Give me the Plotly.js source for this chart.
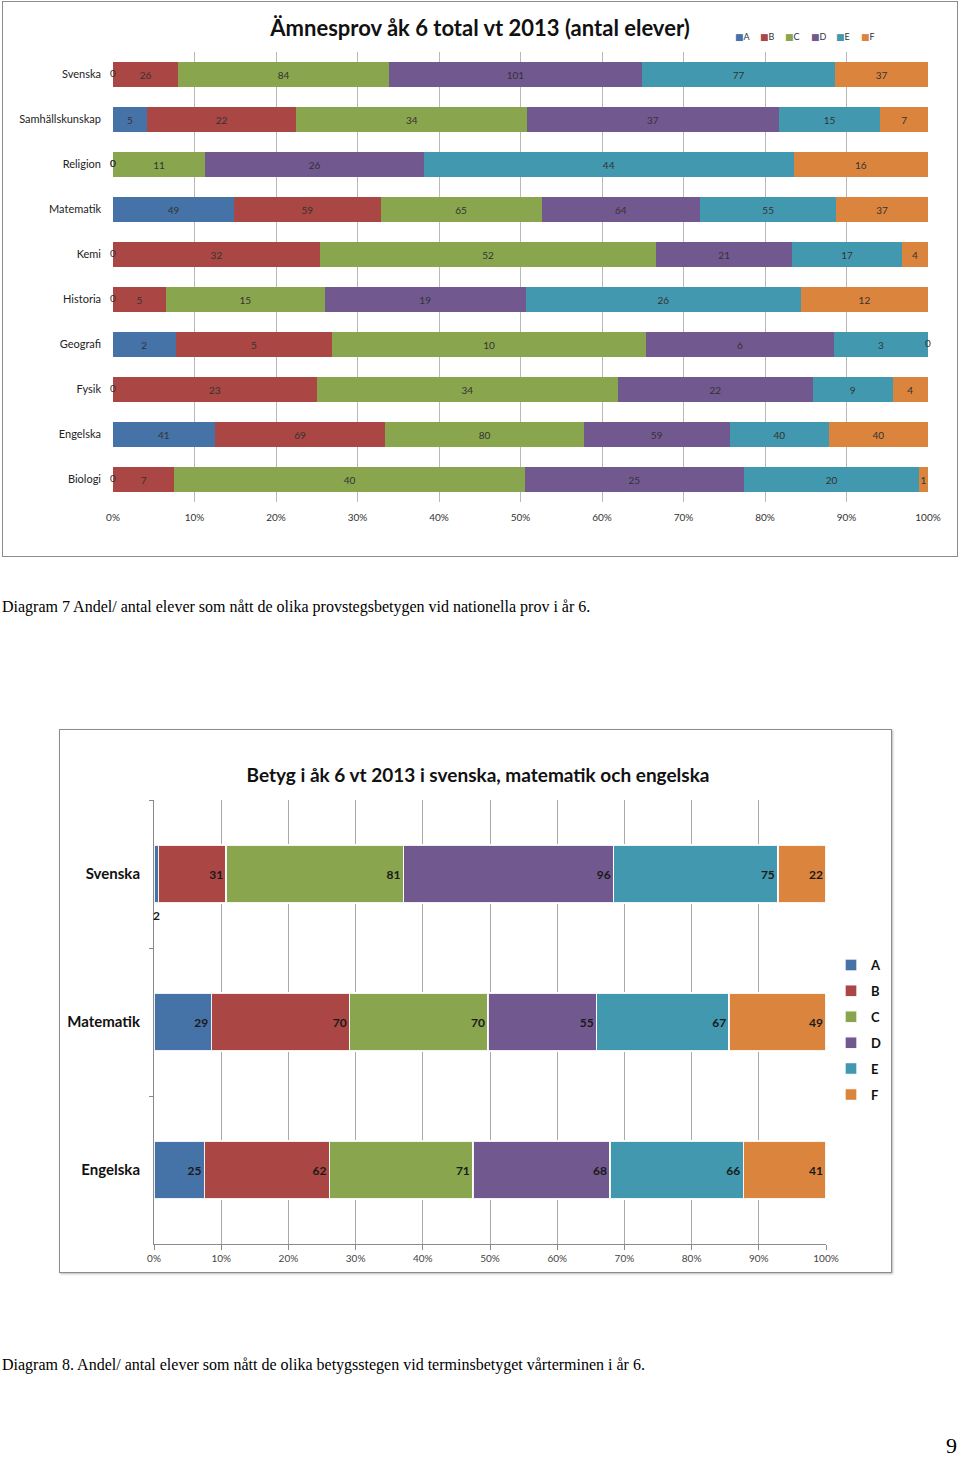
<!DOCTYPE html>
<html>
<head>
<meta charset="utf-8">
<script src="https://cdn.plot.ly/plotly-3.0.1.min.js"></script>
<style>
  html, body { margin: 0; padding: 0; background: #fff; }
  body { width: 960px; height: 1459px; position: relative; overflow: hidden; }
  #c1 { position: absolute; left: 2px; top: 1px; width: 954px; height: 554px; border: 1px solid #8c8c8c; }
  #c2 { position: absolute; left: 59px; top: 729px; width: 831px; height: 542px; border: 1px solid #8c8c8c; box-shadow: 1px 1px 2px #bbb; }
  .cap { position: absolute; left: 2px; font-family: "Liberation Serif", "Times New Roman", serif; font-size: 16px; color: #000; white-space: nowrap; line-height: 18px; }
  #pg { position: absolute; left: 946px; top: 1433px; font-family: "Liberation Serif", serif; font-size: 22px; color: #000; line-height: 26px; }
</style>
</head>
<body>
<div id="c1"></div>
<div class="cap" style="top:598px;">Diagram 7 Andel/ antal elever som nått de olika provstegsbetygen vid nationella prov i år 6.</div>
<div id="c2"></div>
<div class="cap" style="top:1356px;">Diagram 8. Andel/ antal elever som nått de olika betygsstegen vid terminsbetyget vårterminen i år 6.</div>
<div id="pg">9</div>
<script>
// ---------- DATA ----------
var grades = ['A', 'B', 'C', 'D', 'E', 'F'];
var gradeColors = ['#4572A7', '#AA4643', '#89A54E', '#71588F', '#4198AF', '#DB843D'];

// Chart 1: Ämnesprov åk 6 total vt 2013 (antal elever)
var subjects1 = ['Svenska', 'Samhällskunskap', 'Religion', 'Matematik', 'Kemi', 'Historia', 'Geografi', 'Fysik', 'Engelska', 'Biologi'];
var A1 = [0, 5, 0, 49, 0, 0, 2, 0, 41, 0];
var B1 = [26, 22, 0, 59, 32, 5, 5, 23, 69, 7];
var C1 = [84, 34, 11, 65, 52, 15, 10, 34, 80, 40];
var D1 = [101, 37, 26, 64, 21, 19, 6, 22, 59, 25];
var E1 = [77, 15, 44, 55, 17, 26, 3, 9, 40, 20];
var F1 = [37, 7, 16, 37, 4, 12, 0, 4, 40, 1];

// Chart 2: Betyg i åk 6 vt 2013 i svenska, matematik och engelska
var subjects2 = ['Svenska', 'Matematik', 'Engelska'];
var A2 = [2, 29, 25];
var B2 = [31, 70, 62];
var C2 = [81, 70, 71];
var D2 = [96, 55, 68];
var E2 = [75, 67, 66];
var F2 = [22, 49, 41];

var pctTicks = [0, 10, 20, 30, 40, 50, 60, 70, 80, 90, 100];
var pctLabels = pctTicks.map(function (v) { return v + '%'; });

// ---------- CHART 1 ----------
var FONT = 'Lato, "Open Sans", "DejaVu Sans", sans-serif';
var series1 = [A1, B1, C1, D1, E1, F1];

var traces1 = grades.map(function (g, i) {
  return {
    type: 'bar', orientation: 'h', name: g,
    y: subjects1, x: series1[i],
    marker: { color: gradeColors[i] },
    text: series1[i].map(function (v) { return v === 0 ? '' : String(v); }),
    textposition: 'inside', insidetextanchor: 'middle', constraintext: 'none',
    textfont: { family: FONT, size: 10, color: '#333' },
    showlegend: false
  };
});

// zero-value labels placed at the stacked boundary (computed from data)
var zx = [], zy = [], zt = [];
subjects1.forEach(function (s, j) {
  var total = series1.reduce(function (a, ser) { return a + ser[j]; }, 0);
  var cum = 0;
  series1.forEach(function (ser) {
    if (ser[j] === 0) { zx.push(cum / total * 100); zy.push(s); zt.push('0'); }
    cum += ser[j];
  });
});
traces1.push({
  type: 'scatter', mode: 'text', x: zx, y: zy, text: zt,
  textposition: 'middle center', cliponaxis: false,
  textfont: { family: FONT, size: 10, color: '#333' },
  showlegend: false, hoverinfo: 'skip'
});

var legend1 = grades.map(function (g, i) {
  return {
    xref: 'paper', yref: 'paper',
    x: (733 + 25.2 * i - 113) / 815, y: 1 + 15 / 450,
    xanchor: 'left', yanchor: 'middle', showarrow: false,
    text: '<span style="color:' + gradeColors[i] + '">■</span>' + g,
    font: { family: FONT, size: 9, color: '#333' }
  };
});

var layout1 = {
  width: 954, height: 554,
  margin: { l: 110, r: 29, t: 50, b: 54 },
  paper_bgcolor: '#fff', plot_bgcolor: '#fff',
  barmode: 'stack', barnorm: 'percent', bargap: 0.44,
  showlegend: false,
  title: {
    text: 'Ämnesprov åk 6 total vt 2013 (antal elever)',
    font: { family: FONT, size: 22, weight: 'bold', color: '#111' },
    x: 477 / 954, xanchor: 'center', yref: 'container', y: 1 - 26 / 554, yanchor: 'middle'
  },
  xaxis: {
    range: [0, 100], tickmode: 'array', tickvals: pctTicks, ticktext: pctLabels,
    showgrid: true, gridcolor: '#b8b8b8', gridwidth: 1,
    zeroline: false, showline: false, ticks: '',
    tickfont: { family: FONT, size: 10, color: '#333' },
    ticklabelstandoff: 8, fixedrange: true
  },
  yaxis: {
    categoryorder: 'array', categoryarray: subjects1, autorange: 'reversed',
    showgrid: false, zeroline: false, showline: false, ticks: '',
    tickfont: { family: FONT, size: 11, color: '#222' },
    ticklabelstandoff: 11, fixedrange: true
  },
  annotations: legend1
};

Plotly.newPlot('c1', traces1, layout1, { displayModeBar: false, staticPlot: true });

// ---------- CHART 2 ----------
var series2 = [A2, B2, C2, D2, E2, F2];
var totals2 = subjects2.map(function (s, j) {
  return series2.reduce(function (a, ser) { return a + ser[j]; }, 0);
});

var traces2 = grades.map(function (g, i) {
  return {
    type: 'bar', orientation: 'h', name: g, legendgroup: g,
    y: subjects2, x: series2[i],
    marker: { color: gradeColors[i], line: { color: 'rgba(255,255,255,0.9)', width: 1.5 } },
    text: series2[i].map(function (v, j) { return v / totals2[j] < 0.02 ? '' : String(v); }),
    textposition: 'inside', insidetextanchor: 'end', constraintext: 'none',
    textfont: { family: FONT, size: 12, weight: 'bold', color: '#1a1a1a' }
  };
});

var ann2 = [];
subjects2.forEach(function (s, j) {
  var cum = 0;
  series2.forEach(function (ser) {
    if (ser[j] > 0 && ser[j] / totals2[j] < 0.02) {
      ann2.push({
        xref: 'x', yref: 'y', x: (cum + ser[j] / 2) / totals2[j] * 100, y: s,
        yshift: -41, showarrow: false, text: String(ser[j]),
        font: { family: FONT, size: 12, weight: 'bold', color: '#1a1a1a' }
      });
    }
    cum += ser[j];
  });
});

var layout2 = {
  width: 831, height: 542,
  margin: { l: 94, r: 65, t: 70, b: 28, autoexpand: false },
  paper_bgcolor: '#fff', plot_bgcolor: '#fff',
  barmode: 'stack', barnorm: 'percent', bargap: 0.61,
  title: {
    text: 'Betyg i åk 6 vt 2013 i svenska, matematik och engelska',
    font: { family: FONT, size: 19, weight: 'bold', color: '#111' },
    x: 418 / 831, xanchor: 'center', yref: 'container', y: 1 - 45 / 542, yanchor: 'middle'
  },
  xaxis: {
    range: [0, 100], tickmode: 'array', tickvals: pctTicks, ticktext: pctLabels,
    showgrid: true, gridcolor: '#a9a9a9', gridwidth: 1,
    zeroline: false, showline: true, linecolor: '#8a8a8a', linewidth: 1,
    ticks: 'outside', ticklen: 5, tickcolor: '#8a8a8a',
    tickfont: { family: FONT, size: 10, color: '#444' }, fixedrange: true
  },
  yaxis: {
    categoryorder: 'array', categoryarray: subjects2, autorange: 'reversed',
    showgrid: false, zeroline: false, showline: true, linecolor: '#8a8a8a', linewidth: 1,
    ticks: 'outside', ticklen: 4, tickcolor: '#8a8a8a', tickson: 'boundaries',
    tickfont: { family: FONT, size: 15, weight: 'bold', color: '#111' },
    ticklabelstandoff: 10, fixedrange: true
  },
  showlegend: true,
  legend: {
    xref: 'container', yref: 'container',
    x: 771 / 831, y: 1 - 220 / 542, xanchor: 'left', yanchor: 'top',
    orientation: 'v', traceorder: 'grouped', tracegroupgap: 6, itemwidth: 30,
    font: { family: FONT, size: 13, weight: 'bold', color: '#111' },
    bgcolor: 'rgba(0,0,0,0)'
  },
  annotations: ann2
};

Plotly.newPlot('c2', traces2, layout2, { displayModeBar: false, staticPlot: true });
</script>
</body>
</html>
